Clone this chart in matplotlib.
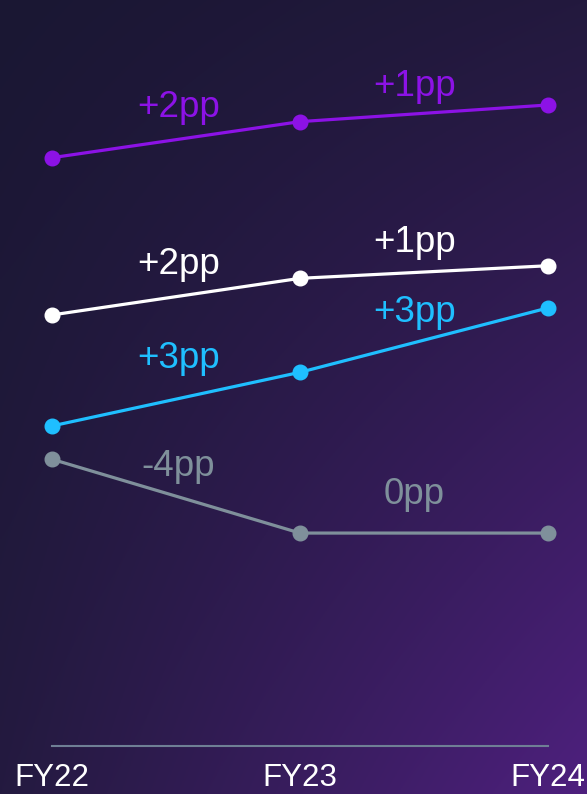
import matplotlib.pyplot as plt
import numpy as np

plt.rcParams['font.family'] = ['Liberation Sans', 'DejaVu Sans']

years = ['FY22', 'FY23', 'FY24']
purple_vals = [31.8, 33.75, 34.65]
white_vals = [23.3, 25.28, 25.96]
cyan_vals = [17.3, 20.2, 23.68]
gray_vals = [15.5, 11.51, 11.51]

series = [
    (purple_vals, '#8c12e6', [16, 13]),
    (white_vals, '#ffffff', [16, 15]),
    (cyan_vals, '#1fbfff', [22, 15]),
    (gray_vals, '#7f909b', [15, 21]),
]
label_x = [0.51, 1.46]


def pp_label(d):
    d = int(round(d))
    return '0pp' if d == 0 else f'{d:+d}pp'


W, H = 587, 794
fig = plt.figure(figsize=(W / 100, H / 100), dpi=100)

# background gradient, dark navy top-left to violet bottom-right
bg = fig.add_axes([0, 0, 1, 1])
u = np.linspace(0, 1, 300)[None, :]
v = np.linspace(0, 1, 400)[:, None]
tl = np.array([0x1a, 0x17, 0x33]) / 255
tr = np.array([0x23, 0x19, 0x3e]) / 255
bl = np.array([0x24, 0x1a, 0x40]) / 255
br = np.array([0x4e, 0x20, 0x7e]) / 255
uu = u[..., None] ** 1.05
vv = v[..., None] ** 1.05
img = (tl * (1 - uu) * (1 - vv) + tr * uu * (1 - vv)
       + bl * (1 - uu) * vv + br * uu * vv)
bg.imshow(img, aspect='auto', extent=(0, 1, 0, 1), origin='upper')
bg.axis('off')

ax = fig.add_axes([52 / W, 48 / H, 496 / W, 746 / H])
ax.patch.set_alpha(0)
x = np.arange(len(years))

for vals, color, offs in series:
    ax.plot(x, vals, color=color, lw=2.3, marker='o', markersize=10.5,
            clip_on=False, zorder=3)
    for i in range(len(vals) - 1):
        lx = label_x[i]
        ly = np.interp(lx, x, vals)
        ax.annotate(pp_label(vals[i + 1] - vals[i]), (lx, ly),
                    xytext=(0, offs[i]), textcoords='offset points',
                    ha='center', va='baseline', color=color, fontsize=26.5)

ax.set_xlim(0, 2)
ax.set_ylim(0, 746 / 18.5)
ax.set_xticks(x)
ax.set_xticklabels(years)
ax.set_yticks([])
ax.tick_params(axis='x', length=0, pad=12, labelsize=22.5, labelcolor='white')
for side in ['top', 'left', 'right']:
    ax.spines[side].set_visible(False)
ax.spines['bottom'].set_color('#6f7f95')
ax.spines['bottom'].set_linewidth(1.5)

fig.savefig('out.png', dpi=100)
